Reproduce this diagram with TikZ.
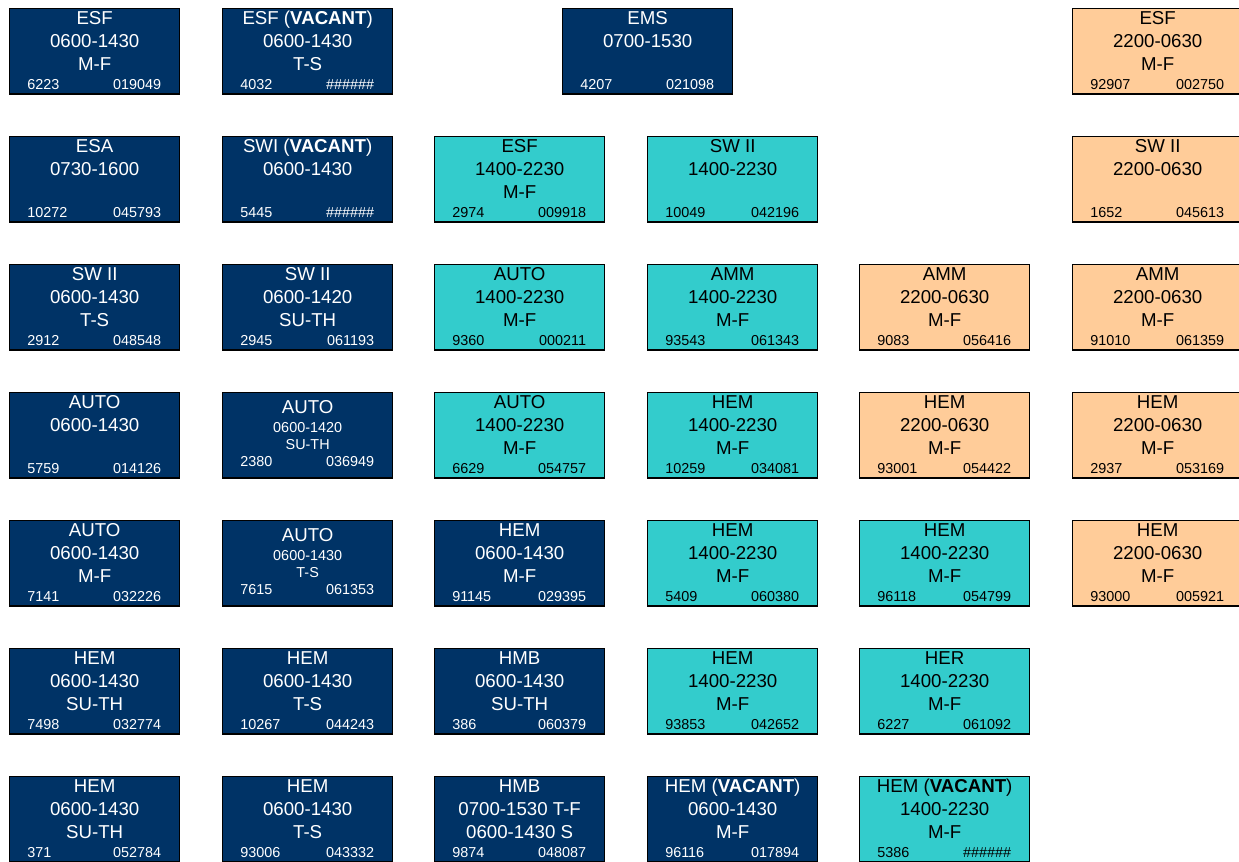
\documentclass[tikz,border=0pt]{standalone}
\usepackage{fontspec}
\setmainfont{Liberation Sans}
\usetikzlibrary{calc}

\definecolor{navyfill}{HTML}{003366}
\definecolor{tealfill}{HTML}{33CCCC}
\definecolor{peachfill}{HTML}{FFCC99}

\tikzset{
  card/.style={draw=black, line width=1pt, rectangle, inner sep=0pt,
    minimum width=127.5pt, minimum height=64pt},
  box-navy/.style={fill=navyfill},
  box-teal/.style={fill=tealfill},
  box-peach/.style={fill=peachfill},
  ink-navy/.style={text=white},
  ink-teal/.style={text=black},
  ink-peach/.style={text=black},
  big/.style={inner sep=0pt, anchor=base, font=\fontsize{14}{16}\selectfont},
  small/.style={inner sep=0pt, anchor=base, font=\fontsize{10.8}{12}\selectfont},
}

% name, left x, top y, colour, three centred lines, left and right numbers
\newcommand\shiftcard[9]{%
  \node[card, box-#4, anchor=north west] (#1) at (#2,#3) {};
  \node[big, ink-#4] (#1-a) at ($(#1.north)+(0,16)$) {#5};
  \node[big, ink-#4] (#1-b) at ($(#1.north)+(0,39)$) {#6};
  \node[big, ink-#4] (#1-c) at ($(#1.north)+(0,62)$) {#7};
  \node[small, ink-#4, anchor=base west] (#1-l) at ($(#1.north west)+(18,81)$) {#8};
  \node[small, ink-#4, anchor=base east] (#1-r) at ($(#1.north east)+(-19,81)$) {#9};
}
% same card with a large title and smaller detail lines
\newcommand\shiftcardsmall[9]{%
  \node[card, box-#4, anchor=north west] (#1) at (#2,#3) {};
  \node[big, ink-#4] (#1-a) at ($(#1.north)+(0,21)$) {#5};
  \node[small, ink-#4] (#1-b) at ($(#1.north)+(0,40)$) {#6};
  \node[small, ink-#4] (#1-c) at ($(#1.north)+(0,57)$) {#7};
  \node[small, ink-#4, anchor=base west] (#1-l) at ($(#1.north west)+(18,74)$) {#8};
  \node[small, ink-#4, anchor=base east] (#1-r) at ($(#1.north east)+(-19,74)$) {#9};
}

\begin{document}
\begin{tikzpicture}[x=0.75pt, y=-0.75pt]
\useasboundingbox (0,0) rectangle (1239,861);

% row 1
\shiftcard{r1c1}{9}{8}{navy}{ESF}{0600-1430}{M-F}{6223}{019049}
\shiftcard{r1c2}{222}{8}{navy}{ESF (\textbf{VACANT})}{0600-1430}{T-S}{4032}{\#\#\#\#\#\#}
\shiftcard{r1c3}{562}{8}{navy}{EMS}{0700-1530}{}{4207}{021098}
\shiftcard{r1c6}{1072}{8}{peach}{ESF}{2200-0630}{M-F}{92907}{002750}

% row 2
\shiftcard{r2c1}{9}{136}{navy}{ESA}{0730-1600}{}{10272}{045793}
\shiftcard{r2c2}{222}{136}{navy}{SWI (\textbf{VACANT})}{0600-1430}{}{5445}{\#\#\#\#\#\#}
\shiftcard{r2c3}{434}{136}{teal}{ESF}{1400-2230}{M-F}{2974}{009918}
\shiftcard{r2c4}{647}{136}{teal}{SW II}{1400-2230}{}{10049}{042196}
\shiftcard{r2c6}{1072}{136}{peach}{SW II}{2200-0630}{}{1652}{045613}

% row 3
\shiftcard{r3c1}{9}{264}{navy}{SW II}{0600-1430}{T-S}{2912}{048548}
\shiftcard{r3c2}{222}{264}{navy}{SW II}{0600-1420}{SU-TH}{2945}{061193}
\shiftcard{r3c3}{434}{264}{teal}{AUTO}{1400-2230}{M-F}{9360}{000211}
\shiftcard{r3c4}{647}{264}{teal}{AMM}{1400-2230}{M-F}{93543}{061343}
\shiftcard{r3c5}{859}{264}{peach}{AMM}{2200-0630}{M-F}{9083}{056416}
\shiftcard{r3c6}{1072}{264}{peach}{AMM}{2200-0630}{M-F}{91010}{061359}

% row 4
\shiftcard{r4c1}{9}{392}{navy}{AUTO}{0600-1430}{}{5759}{014126}
\shiftcardsmall{r4c2}{222}{392}{navy}{AUTO}{0600-1420}{SU-TH}{2380}{036949}
\shiftcard{r4c3}{434}{392}{teal}{AUTO}{1400-2230}{M-F}{6629}{054757}
\shiftcard{r4c4}{647}{392}{teal}{HEM}{1400-2230}{M-F}{10259}{034081}
\shiftcard{r4c5}{859}{392}{peach}{HEM}{2200-0630}{M-F}{93001}{054422}
\shiftcard{r4c6}{1072}{392}{peach}{HEM}{2200-0630}{M-F}{2937}{053169}

% row 5
\shiftcard{r5c1}{9}{520}{navy}{AUTO}{0600-1430}{M-F}{7141}{032226}
\shiftcardsmall{r5c2}{222}{520}{navy}{AUTO}{0600-1430}{T-S}{7615}{061353}
\shiftcard{r5c3}{434}{520}{navy}{HEM}{0600-1430}{M-F}{91145}{029395}
\shiftcard{r5c4}{647}{520}{teal}{HEM}{1400-2230}{M-F}{5409}{060380}
\shiftcard{r5c5}{859}{520}{teal}{HEM}{1400-2230}{M-F}{96118}{054799}
\shiftcard{r5c6}{1072}{520}{peach}{HEM}{2200-0630}{M-F}{93000}{005921}

% row 6
\shiftcard{r6c1}{9}{648}{navy}{HEM}{0600-1430}{SU-TH}{7498}{032774}
\shiftcard{r6c2}{222}{648}{navy}{HEM}{0600-1430}{T-S}{10267}{044243}
\shiftcard{r6c3}{434}{648}{navy}{HMB}{0600-1430}{SU-TH}{386}{060379}
\shiftcard{r6c4}{647}{648}{teal}{HEM}{1400-2230}{M-F}{93853}{042652}
\shiftcard{r6c5}{859}{648}{teal}{HER}{1400-2230}{M-F}{6227}{061092}

% row 7
\shiftcard{r7c1}{9}{776}{navy}{HEM}{0600-1430}{SU-TH}{371}{052784}
\shiftcard{r7c2}{222}{776}{navy}{HEM}{0600-1430}{T-S}{93006}{043332}
\shiftcard{r7c3}{434}{776}{navy}{HMB}{0700-1530 T-F}{0600-1430 S}{9874}{048087}
\shiftcard{r7c4}{647}{776}{navy}{HEM (\textbf{VACANT})}{0600-1430}{M-F}{96116}{017894}
\shiftcard{r7c5}{859}{776}{teal}{HEM (\textbf{VACANT})}{1400-2230}{M-F}{5386}{\#\#\#\#\#\#}
\end{tikzpicture}
\end{document}
